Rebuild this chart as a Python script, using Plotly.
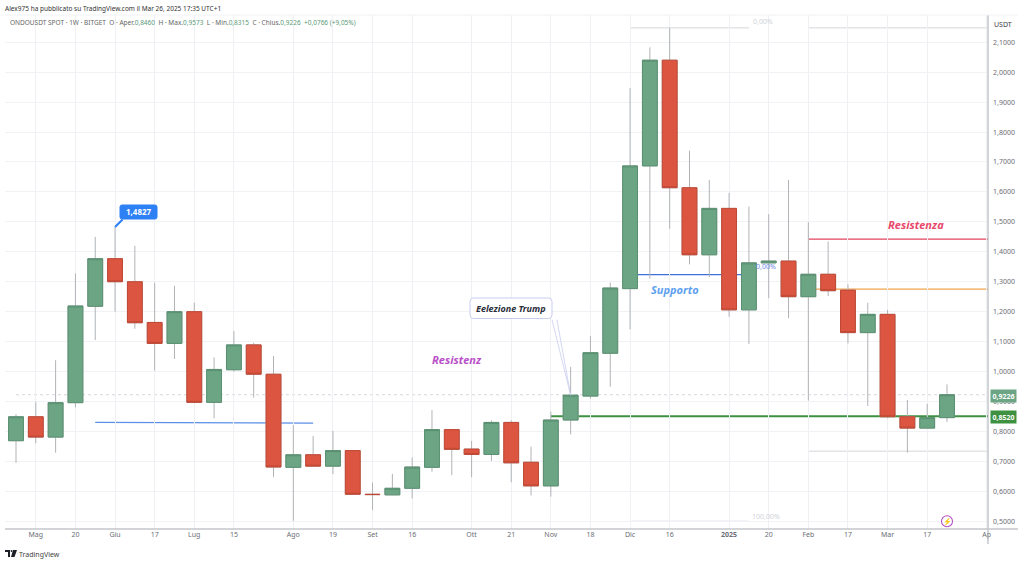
import pandas as pd
import plotly.graph_objects as go

W, H = 1024, 564
PL, PR, PT, PB = 5, 988, 15, 529
FONT = "Noto Sans"

weeks = pd.date_range("2024-04-29", periods=48, freq="7D").strftime("%Y-%m-%d").tolist()
opens = [0.769,0.849,0.781,0.896,1.218,1.377,1.300,1.164,1.094,1.200,0.897,1.006,1.089,0.991,0.680,0.722,0.684,0.736,0.590,0.588,0.610,0.680,0.806,0.741,0.723,0.830,0.697,0.618,0.838,0.918,1.061,1.277,1.687,2.040,1.614,1.390,1.545,1.206,1.363,1.369,1.250,1.325,1.272,1.130,1.191,0.849,0.811,0.8460]
closes = [0.849,0.781,0.896,1.219,1.377,1.300,1.163,1.094,1.200,0.897,1.007,1.089,0.991,0.681,0.722,0.684,0.736,0.590,0.589,0.610,0.681,0.806,0.740,0.723,0.830,0.695,0.618,0.838,0.921,1.063,1.279,1.687,2.040,1.614,1.390,1.545,1.206,1.363,1.369,1.250,1.325,1.270,1.130,1.191,0.849,0.811,0.846,0.9226]
highs = [0.858,0.899,1.038,1.328,1.450,1.4827,1.420,1.297,1.286,1.230,1.047,1.135,1.096,1.052,0.821,0.785,0.802,0.738,0.629,0.658,0.713,0.871,0.806,0.768,0.837,0.837,0.749,0.866,1.016,1.119,1.297,1.947,2.083,2.149,1.738,1.640,1.597,1.551,1.526,1.640,1.499,1.434,1.291,1.230,1.206,0.905,0.892,0.9573]
lows = [0.695,0.760,0.729,0.880,1.105,1.200,1.143,1.003,1.042,0.894,0.844,1.000,0.913,0.648,0.501,0.684,0.657,0.588,0.537,0.587,0.576,0.665,0.654,0.647,0.701,0.630,0.586,0.582,0.790,0.909,0.949,1.141,1.311,1.477,1.358,1.315,1.183,1.092,1.245,1.178,0.903,1.252,1.094,0.885,0.844,0.729,0.810,0.8315]

price_ticks = [0.5,0.6,0.7,0.8,0.9,1.0,1.1,1.2,1.3,1.4,1.5,1.6,1.7,1.8,1.9,2.0,2.1]
price_labels = ["0,5000","0,6000","0,7000","0,8000","0,9000","1,0000","1,1000","1,2000","1,3000","1,4000","1,5000","1,6000","1,7000","1,8000","1,9000","2,0000","2,1000"]
date_ticks = ["2024-05-06","2024-05-20","2024-06-03","2024-06-17","2024-07-01","2024-07-15","2024-08-05","2024-08-19","2024-09-02","2024-09-16","2024-10-07","2024-10-21","2024-11-04","2024-11-18","2024-12-02","2024-12-16","2025-01-06","2025-01-20","2025-02-03","2025-02-17","2025-03-03","2025-03-17","2025-04-07"]
date_labels = ["Mag","20","Giu","17","Lug","15","Ago","19","Set","16","Ott","21","Nov","18","Dic","16","<b>2025</b>","20","Feb","17","Mar","17","Ap"]

LAST = weeks[-1]
END = "2025-04-07 11:45"
level_starts = ["2024-05-27","2024-11-04","2024-12-02","2025-02-03","2025-02-03","2024-12-02","2025-02-03","2024-12-02","2025-02-03"]
level_ends = ["2024-08-12",END,"2025-01-13",END,END,"2025-01-13",END,"2025-01-13",END]
level_y0 = [0.830,0.851,1.324,1.442,1.275,2.148,2.148,0.500,0.734]
level_y1 = [0.828,0.851,1.324,1.442,1.275,2.148,2.148,0.500,0.734]
level_colors = ["#5b8fe8","#3f9142","#3f6fd8","#e2445c","#f0a448","#d4d6da","#d4d6da","#d4d6da","#d4d6da"]
level_widths = [1.3,2,1.3,1.3,1.3,1,1,1,1]


def px(x):
    return (x - PL) / (PR - PL)


def py(y):
    return (PB - y) / (PB - PT)


def rounded(x0, y0, x1, y1, r, fill, edge):
    p = (f"M {px(x0+r)} {py(y0)} L {px(x1-r)} {py(y0)} Q {px(x1)} {py(y0)} {px(x1)} {py(y0+r)} "
         f"L {px(x1)} {py(y1-r)} Q {px(x1)} {py(y1)} {px(x1-r)} {py(y1)} "
         f"L {px(x0+r)} {py(y1)} Q {px(x0)} {py(y1)} {px(x0)} {py(y1-r)} "
         f"L {px(x0)} {py(y0+r)} Q {px(x0)} {py(y0)} {px(x0+r)} {py(y0)} Z")
    return dict(type="path", xref="paper", yref="paper", path=p, fillcolor=fill, line=dict(color=edge, width=1))


fig = go.Figure()
fig.add_trace(go.Candlestick(
    x=weeks, open=opens, high=highs, low=lows, close=closes, whiskerwidth=0,
    increasing=dict(line=dict(color="#b0b3b6", width=1), fillcolor="rgba(0,0,0,0)"),
    decreasing=dict(line=dict(color="#b0b3b6", width=1), fillcolor="rgba(0,0,0,0)"),
    showlegend=False, hoverinfo="skip",
))
fig.add_trace(go.Candlestick(
    x=weeks, open=opens, close=closes,
    high=[max(o, c) for o, c in zip(opens, closes)],
    low=[min(o, c) for o, c in zip(opens, closes)],
    increasing=dict(line=dict(color="#5a9072", width=1), fillcolor="#6ba583"),
    decreasing=dict(line=dict(color="#c04835", width=1), fillcolor="#db5540"),
    showlegend=False, hoverinfo="skip",
))

shapes = []
for x0, x1, y0, y1, c, w in zip(level_starts, level_ends, level_y0, level_y1, level_colors, level_widths):
    shapes.append(dict(type="line", xref="x", yref="y", x0=x0, x1=x1, y0=y0, y1=y1,
                       layer="below", line=dict(color=c, width=w)))
shapes.append(dict(type="line", xref="x", yref="y", x0=weeks[0], x1=END, y0=closes[-1], y1=closes[-1],
                   layer="below", line=dict(color="#c9ccd1", width=0.8, dash="dot")))
# panel frame
shapes.append(dict(type="line", xref="paper", yref="paper", x0=px(PR), x1=px(PR), y0=py(PB + 15), y1=py(PT),
                   line=dict(color="#a8abb0", width=1)))
shapes.append(dict(type="line", xref="paper", yref="paper", x0=px(PL), x1=px(1018), y0=py(PB), y1=py(PB),
                   line=dict(color="#c4c6ca", width=1.4)))
shapes.append(dict(type="line", xref="paper", yref="paper", x0=px(PL), x1=px(1018), y0=py(PT), y1=py(PT),
                   line=dict(color="#f1f2f5", width=1)))
# lightning badge
shapes.append(dict(type="circle", xref="x", yref="y", xsizemode="pixel", ysizemode="pixel",
                   xanchor=LAST, yanchor=0.5, x0=-5.5, x1=5.5, y0=-5.5, y1=5.5,
                   line=dict(color="#b44ec8", width=1.1), fillcolor="white"))
# callout boxes
shapes.append(rounded(120, 205, 157, 219, 2, "#2e80f5", "#2e80f5"))
shapes.append(rounded(470, 298, 552, 318.5, 3.5, "white", "#c8cdee"))
# logo mark
logo = "M {} {} L {} {} L {} {} L {} {} L {} {} L {} {} Z".format(
    px(5), py(550), px(10), py(550), px(10), py(557), px(8), py(557), px(8), py(552), px(5), py(552))
shapes.append(dict(type="path", xref="paper", yref="paper", path=logo, fillcolor="#1c1f26", line=dict(width=0)))
logo2 = "M {} {} L {} {} L {} {} L {} {} Z".format(
    px(13), py(550), px(17), py(550), px(14.5), py(557), px(11), py(557))
shapes.append(dict(type="path", xref="paper", yref="paper", path=logo2, fillcolor="#1c1f26", line=dict(width=0)))
shapes.append(dict(type="circle", xref="paper", yref="paper", x0=px(10.6), x1=px(12.4), y0=py(552), y1=py(550),
                   fillcolor="#1c1f26", line=dict(width=0)))


def note(x, y, text, size=7, color="#555", xanchor="left", **kw):
    d = dict(xref="paper", yref="paper", x=px(x), y=py(y), text=text, showarrow=False,
             xanchor=xanchor, yanchor="middle", font=dict(family=FONT, size=size, color=color))
    d.update(kw)
    return d


def data_note(x, y, text, size=11, color="#555", **kw):
    d = dict(xref="x", yref="y", x=x, y=y, text=text, showarrow=False,
             font=dict(family=FONT, size=size, color=color))
    d.update(kw)
    return d


G = "#5a9a78"
legend_line = ("ONDOUSDT SPOT · 1W · BITGET  O · Aper.<span style='color:%s'>0,8460</span>  "
               "H · Max.<span style='color:%s'>0,9573</span>  L · Min.<span style='color:%s'>0,8315</span>  "
               "C · Chius.<span style='color:%s'>0,9226</span>  <span style='color:%s'>+0,0766 (+9,05%%)</span>") % (G, G, G, G, G)

annotations = [
    note(3, 8, "Alex975 ha pubblicato su TradingView.com il Mar 26, 2025 17:35 UTC+1", size=6.5, color="#333"),
    note(8, 23, legend_line, size=6.5, color="#666"),
    note(17, 554, "TradingView", size=7, color="#444"),
    note(1003, 24.5, "USDT", color="#444", xanchor="center"),
    note(1003, 395.5, "<b>0,9226</b>", color="white", xanchor="center", bgcolor="#6ba583", borderpad=1.5),
    note(1003, 416.5, "<b>0,8520</b>", color="white", xanchor="center", bgcolor="#3f9142", borderpad=1.5),
    data_note("2025-01-18", 2.168, "0,00%", size=7, color="#d0d3d8"),
    data_note("2025-01-19", 0.517, "100,00%", size=7, color="#d0d3d8"),
    data_note("2025-01-19", 1.351, "0,00%", size=7, color="#6f8ae6"),
    data_note("2025-03-13", 1.492, "<i><b>Resistenza</b></i>", size=11, color="#e8476a"),
    data_note("2024-12-18", 1.275, "<i><b>Supporto</b></i>", size=11, color="#5d9ff0"),
    data_note("2024-10-02", 1.040, "<i><b>Resistenz</b></i>", size=11, color="#b84fc8"),
    data_note("2024-06-03", 1.4827, "", showarrow=True, arrowhead=0, arrowcolor="#2e80f5",
              arrowwidth=2, ax=9, ay=-9),
    note(138.5, 212, "<b>1,4827</b>", size=8, color="white", xanchor="center"),
    data_note(weeks[28], 0.921, "", showarrow=True, arrowhead=0, arrowcolor="#c8cdee",
              arrowwidth=0.8, ax=-19, ay=-77),
    data_note(weeks[28], 0.921, "", showarrow=True, arrowhead=0, arrowcolor="#c8cdee",
              arrowwidth=0.8, ax=-14, ay=-77),
    note(511, 308, "<i><b>Eelezione Trump</b></i>", size=9, color="#2a2e39", xanchor="center"),
    data_note(LAST, 0.5, "⚡", size=7, color="#b44ec8"),
]

fig.update_layout(
    width=W, height=H, autosize=False, paper_bgcolor="white", plot_bgcolor="white",
    margin=dict(l=PL, r=W - PR, t=PT, b=H - PB),
    boxgap=0.25, boxgroupgap=0, showlegend=False, font=dict(family=FONT, size=7, color="#6b6e75"),
    shapes=shapes, annotations=annotations, hovermode=False,
    xaxis=dict(type="date", range=["2024-04-25 02:40", END], rangeslider=dict(visible=False),
               tickmode="array", tickvals=date_ticks, ticktext=date_labels, ticks="", showline=False,
               gridcolor="#eef0f4", gridwidth=1, zeroline=False, tickangle=0,
               tickfont=dict(family=FONT, size=7, color="#6b6e75")),
    yaxis=dict(side="right", range=[0.474, 2.191], tickmode="array", tickvals=price_ticks, ticktext=price_labels,
               ticks="", showline=False, gridcolor="#f1f2f6", gridwidth=1, zeroline=False,
               ticklabelstandoff=4, tickfont=dict(family=FONT, size=7, color="#6b6e75")),
)
fig.write_html("out.html", config=dict(displayModeBar=False),
               post_script="document.body.style.margin='0';document.body.style.overflow='hidden';")
